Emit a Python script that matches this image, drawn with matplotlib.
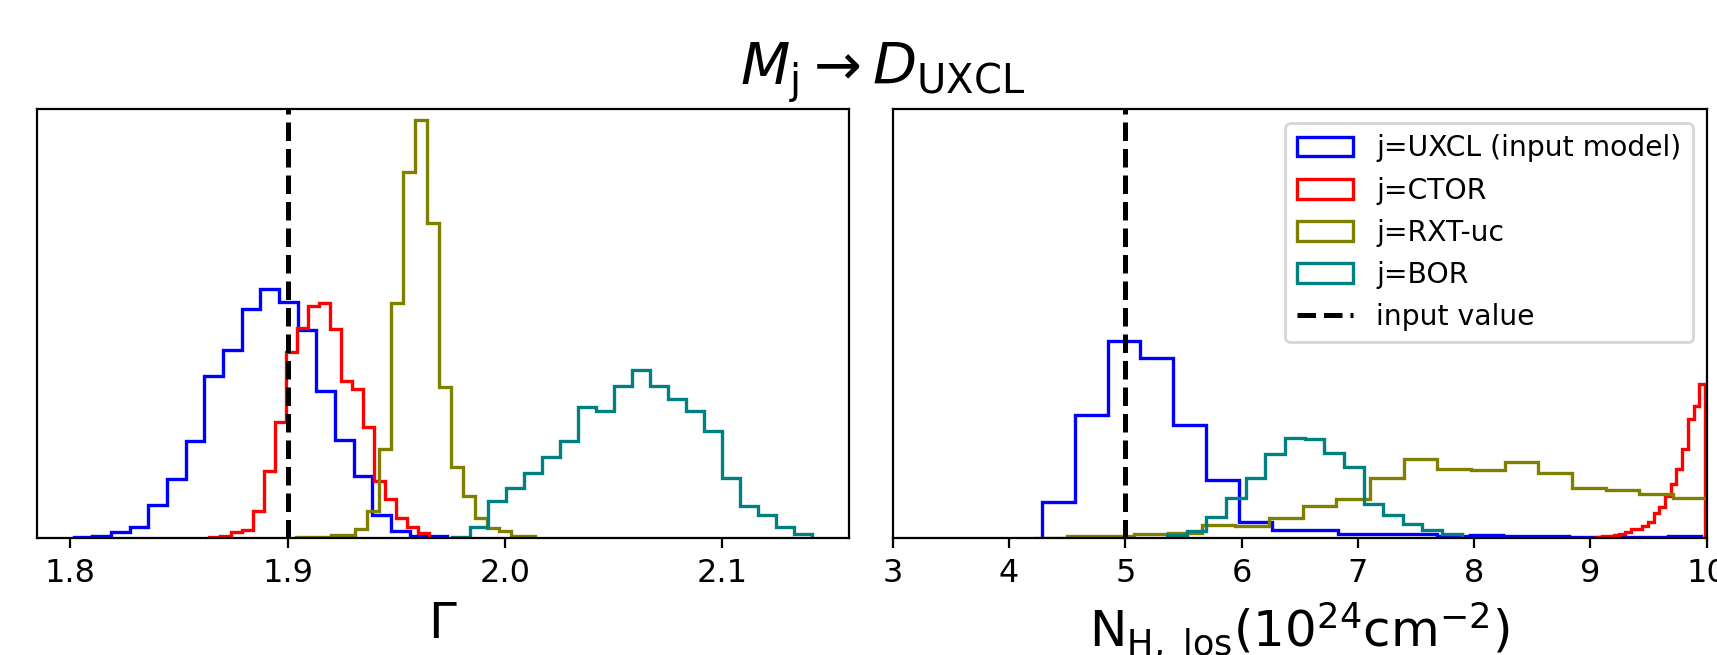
import numpy as np
import matplotlib
matplotlib.use("Agg")
import matplotlib.pyplot as plt

# bar heights (arbitrary units, axis top = 429)
# --- left panel: Gamma ---
g_blue_range = (1.8016, 1.9734)
g_blue = [1, 2, 6.3, 11.7, 33.7, 59.3, 97.7, 162.3, 187.7, 228.7,
          249, 235.7, 207.7, 146.7, 98.3, 62.3, 23.3, 7.7, 2.7, 2.3]
g_red_range = (1.8638, 1.9649)
g_red = [1, 2, 6, 8, 27, 67, 116, 186, 210, 232,
         235, 209, 157, 149, 111, 57, 39, 20, 11, 5]
g_olive_range = (1.9037, 2.0139)
g_olive = [1, 1, 1, 3, 3, 9.7, 27, 89, 235, 366,
           418, 315, 151, 71, 42, 20, 10, 7, 2.3, 2.3]
g_teal_range = (1.9755, 2.1414)
g_teal = [1, 11.7, 37.7, 50.3, 65, 81, 97, 131, 126.7, 151.7,
          168.3, 152.3, 138.7, 126.7, 107.7, 60, 32.7, 23.7, 11, 4.3]
g_input = 1.9

# --- right panel: NH,los ---
n_blue_range = (4.281, 9.948)
n_blue = [36.3, 123, 197, 179.7, 113.7, 58.7, 16.3, 8, 8, 4,
          4, 4, 2, 3, 2.3, 2.3, 1.3, 1, 1, 2]
n_red_range = (9.005, 9.985)
n_red = [0.5, 1, 2, 2.3, 3, 4.3, 6, 9, 9.5, 12,
         16, 25, 31, 42, 54.7, 69.7, 89.7, 118.7, 132, 153.7]
n_olive_range = (4.209, 10.0)
n_olive = [0.7, 2.7, 2, 4, 5.7, 13, 12, 20, 32.3, 39.7,
           60.7, 79, 69, 68, 76.3, 65.7, 50.7, 48, 44.7, 40.7]
n_teal_range = (5.361, 7.893)
n_teal = [3.3, 7.7, 21.3, 40.3, 60.7, 84, 100.7, 99, 85.7, 71.3,
          34, 23, 14.7, 8.7, 4]
n_input = 5.0

labels = ["j=UXCL (input model)", "j=CTOR", "j=RXT-uc", "j=BOR"]
colors = ["blue", "red", "olive", "teal"]
YTOP = 429


def step_hist(ax, rng, h, color, label):
    edges = np.linspace(rng[0], rng[1], len(h) + 1)
    ax.hist(edges[:-1], bins=edges, weights=h, histtype="step",
            color=color, lw=1.2, label=label)


fig = plt.figure(figsize=(8.585, 3.275), dpi=200)
ax1 = fig.add_axes([0.0214, 0.1782, 0.4731, 0.6554])
ax2 = fig.add_axes([0.5199, 0.1782, 0.4741, 0.6554])

left = [(g_blue_range, g_blue), (g_red_range, g_red),
        (g_olive_range, g_olive), (g_teal_range, g_teal)]
right = [(n_blue_range, n_blue), (n_red_range, n_red),
         (n_olive_range, n_olive), (n_teal_range, n_teal)]

for (rng, h), c, lab in zip(left, colors, labels):
    step_hist(ax1, rng, h, c, lab)
ax1.axvline(g_input, color="k", ls="--", lw=1.8, label="input value")

for (rng, h), c, lab in zip(right, colors, labels):
    step_hist(ax2, rng, h, c, lab)
ax2.axvline(n_input, color="k", ls="--", lw=1.8, label="input value")

ax1.set_xticks([1.8, 1.9, 2.0, 2.1])
ax1.set_ylim(0, YTOP)
ax2.set_xlim(3, 10)
ax2.set_xticks(range(3, 11))
ax2.set_ylim(0, YTOP)

for ax in (ax1, ax2):
    ax.set_yticks([])
    ax.tick_params(axis="x", labelsize=11.5)

ax1.set_xlabel(r"$\Gamma$", fontsize=18)
ax2.set_xlabel(r"$\mathrm{N_{H,\ los}(10^{24}cm^{-2})}$", fontsize=18)
ax2.legend(loc="upper right", fontsize=10.2)

fig.text(0.5143, 1 - 85 / 655, r"$M_{\rm j} \rightarrow D_{\rm UXCL}$",
         ha="center", va="baseline", fontsize=20.6)

fig.savefig("out.png", dpi=200)
